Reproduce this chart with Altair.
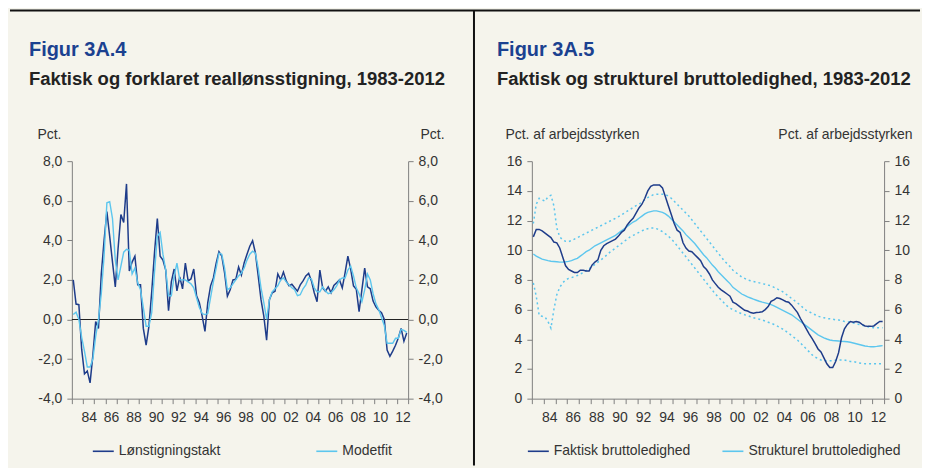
import altair as alt
import pandas as pd

# ---------------- data (quarterly, 1983Q1 - 2012Q4) ----------------
YEARS = list(range(1983, 2013))
TICK_YEARS = list(range(1983, 2014))

L_NAMES = ["Lønstigningstakt", "Modetfit"]
R_NAMES = ["Faktisk bruttoledighed", "Strukturel bruttoledighed"]

loen = [
    2.0, 0.78, 0.75, -1.5,
    -2.75, -2.6, -3.2, -1.8,
    -0.1, -0.45, 2.3, 4.0,
    5.45, 4.2, 2.9, 1.65,
    3.6, 5.3, 4.9, 6.85,
    2.45, 2.9, 3.2, 1.75,
    1.75, -0.45, -1.3, -0.35,
    1.4, 3.4, 5.1, 3.2,
    3.0, 2.5, 0.45, 1.9,
    2.55, 1.45, 2.15, 1.55,
    2.85, 1.95, 2.05, 2.55,
    1.2, 0.85, 0.17, -0.6,
    0.85, 1.7, 2.1, 2.85,
    3.43, 3.2, 2.36, 1.18,
    1.5, 2.0, 2.03, 2.65,
    2.25, 2.87, 3.3, 3.7,
    3.98, 3.36, 2.2, 1.0,
    0.17, -1.05, 1.0, 1.35,
    1.43, 2.3, 2.0, 2.4,
    1.95, 1.7, 1.78, 1.6,
    1.43, 1.75, 1.95, 2.2,
    2.33, 1.95, 1.35, 0.9,
    2.5, 1.6, 1.43, 1.65,
    1.35, 1.72, 1.86, 2.0,
    1.6, 2.36, 3.2, 2.55,
    1.7, 1.53, 0.4, 1.5,
    2.6, 1.65, 1.55, 0.93,
    0.64, 0.47, 0.34, 0.0,
    -1.55, -1.86, -1.6, -1.3,
    -0.93, -0.45, -1.1, -0.68,
]

modelfit = [
    0.25, 0.37, 0.0, -0.9,
    -1.6, -2.4, -2.4, -2.0,
    -0.85, 0.0, 1.3, 3.2,
    5.9, 5.95, 5.1, 3.0,
    2.0, 2.7, 3.4, 3.55,
    3.5, 2.3, 2.6, 1.85,
    1.5, 0.6, -0.34, -0.34,
    0.34, 2.4, 4.2, 4.4,
    3.3, 2.5, 1.2, 1.2,
    2.2, 2.85, 2.0, 2.0,
    2.0, 1.9, 1.8, 1.6,
    1.1, 0.6, 0.3, 0.25,
    0.3, 1.1, 1.9, 2.6,
    3.35, 3.3, 2.6, 1.5,
    1.6, 1.8, 2.0, 2.2,
    2.35, 2.6, 3.0, 3.3,
    3.45, 3.35, 2.6, 1.6,
    0.85, 0.0, 1.0, 1.4,
    1.55, 1.7, 2.0, 2.1,
    1.9, 1.75, 1.6, 1.5,
    1.2, 1.25, 1.55, 1.75,
    2.1, 2.05, 1.6, 1.4,
    1.4, 1.65, 1.45, 1.3,
    1.35, 1.5, 1.7, 2.0,
    2.1, 2.1, 2.5, 2.7,
    2.2, 1.6, 1.3, 0.9,
    1.5, 2.3, 2.0, 1.3,
    0.8, 0.5, 0.1, -0.3,
    -1.2, -1.2, -1.2, -0.95,
    -0.95, -0.5, -0.55, -0.65,
]

faktisk = [
    10.9, 11.4, 11.4, 11.3,
    11.15, 11.0, 10.85, 10.55,
    10.5, 10.15, 9.55, 8.95,
    8.7, 8.6, 8.5, 8.5,
    8.65, 8.65, 8.6, 8.6,
    9.0, 9.2, 9.35, 10.0,
    10.3, 10.45, 10.55, 10.65,
    10.75, 10.95, 11.2, 11.35,
    11.7, 11.95, 12.15, 12.5,
    12.85, 13.1, 13.5, 14.0,
    14.3, 14.4, 14.4, 14.4,
    14.2, 13.6, 13.0, 12.4,
    11.8, 11.35, 11.2, 10.5,
    10.15, 9.95, 9.9, 9.7,
    9.5, 9.3, 8.9, 8.7,
    8.4, 8.0, 7.75, 7.5,
    7.33, 7.2, 7.05, 6.9,
    6.5, 6.4, 6.25, 6.1,
    5.95, 5.9, 5.8, 5.75,
    5.8, 5.82, 5.85, 6.0,
    6.2, 6.55, 6.65, 6.8,
    6.75, 6.65, 6.55, 6.5,
    6.3, 6.05, 5.8, 5.4,
    5.05, 4.7, 4.35, 4.05,
    3.7, 3.35, 3.15, 2.75,
    2.35, 2.1, 2.1, 2.5,
    3.1, 4.1, 4.7, 5.0,
    5.2, 5.15, 5.2, 5.15,
    5.0, 4.9, 4.87, 4.87,
    4.9, 5.05, 5.2, 5.2,
]

strukturel = [
    9.75, 9.6, 9.5, 9.4,
    9.35, 9.3, 9.26, 9.24,
    9.22, 9.2, 9.2, 9.22,
    9.25, 9.3, 9.38, 9.45,
    9.6, 9.75, 9.9, 10.0,
    10.15, 10.3, 10.4, 10.5,
    10.6, 10.7, 10.8, 10.9,
    11.0, 11.15, 11.3, 11.45,
    11.6, 11.75, 11.9, 12.0,
    12.15, 12.3, 12.45, 12.55,
    12.6, 12.65, 12.65, 12.6,
    12.55, 12.45, 12.3, 12.1,
    11.9, 11.7, 11.5, 11.3,
    11.05, 10.85, 10.65, 10.45,
    10.2, 9.95, 9.7, 9.5,
    9.25, 9.0, 8.8, 8.55,
    8.35, 8.15, 7.95, 7.75,
    7.5, 7.35, 7.2, 7.05,
    6.95, 6.85, 6.78, 6.7,
    6.63, 6.56, 6.5, 6.45,
    6.4, 6.33, 6.25, 6.15,
    6.05, 5.95, 5.85, 5.75,
    5.65, 5.5, 5.35, 5.2,
    5.05, 4.9, 4.75, 4.6,
    4.45, 4.3, 4.2, 4.1,
    4.02, 3.95, 3.92, 3.9,
    3.88, 3.86, 3.85, 3.83,
    3.8, 3.75, 3.7, 3.65,
    3.6, 3.55, 3.52, 3.5,
    3.5, 3.52, 3.55, 3.57,
]

strukt_upper = [
    11.8, 13.1, 13.5, 13.4,
    13.3, 13.6, 13.7, 13.0,
    11.5, 10.9, 10.7, 10.6,
    10.58, 10.65, 10.75, 10.85,
    10.95, 11.05, 11.15, 11.25,
    11.35, 11.45, 11.55, 11.65,
    11.75, 11.85, 11.95, 12.05,
    12.15, 12.26, 12.38, 12.5,
    12.63, 12.75, 12.88, 13.0,
    13.1, 13.25, 13.4, 13.55,
    13.65, 13.75, 13.77, 13.77,
    13.77, 13.75, 13.65, 13.5,
    13.3, 13.1, 12.9, 12.7,
    12.5, 12.3, 12.05, 11.8,
    11.55, 11.3, 11.05, 10.8,
    10.55, 10.3, 10.05, 9.8,
    9.55, 9.3, 9.1, 8.9,
    8.65, 8.5, 8.35, 8.2,
    8.1, 8.0, 7.95, 7.9,
    7.85, 7.8, 7.75, 7.7,
    7.65, 7.6, 7.5, 7.4,
    7.3, 7.2, 7.05, 6.9,
    6.75, 6.6, 6.45, 6.3,
    6.1, 5.95, 5.85, 5.75,
    5.65, 5.55, 5.5, 5.45,
    5.4, 5.38, 5.35, 5.3,
    5.3, 5.25, 5.2, 5.18,
    5.15, 5.1, 5.05, 5.0,
    4.95, 4.9, 4.85, 4.8,
    4.78, 4.77, 4.77, 4.77,
]

strukt_lower = [
    7.8, 6.9, 5.6, 5.55,
    5.5, 5.2, 4.75, 6.0,
    7.0, 7.5, 7.8, 8.0,
    8.1, 8.15, 8.23, 8.3,
    8.4, 8.5, 8.62, 8.75,
    8.9, 9.05, 9.2, 9.35,
    9.5, 9.67, 9.85, 10.0,
    10.15, 10.3, 10.45, 10.6,
    10.75, 10.9, 11.0, 11.1,
    11.2, 11.3, 11.4, 11.45,
    11.5, 11.5, 11.45, 11.35,
    11.25, 11.1, 10.95, 10.75,
    10.55, 10.3, 10.05, 9.8,
    9.55, 9.3, 9.05, 8.8,
    8.55, 8.3, 8.05, 7.8,
    7.55, 7.3, 7.05, 6.85,
    6.65, 6.45, 6.25, 6.1,
    6.0, 5.9, 5.8, 5.72,
    5.65, 5.6, 5.52, 5.45,
    5.4, 5.35, 5.3, 5.22,
    5.15, 5.08, 5.0, 4.9,
    4.8, 4.68, 4.55, 4.4,
    4.25, 4.1, 3.95, 3.75,
    3.55, 3.35, 3.15, 2.95,
    2.8, 2.7, 2.6, 2.55,
    2.55, 2.55, 2.55, 2.58,
    2.6, 2.6, 2.6, 2.55,
    2.5, 2.5, 2.45, 2.4,
    2.38, 2.35, 2.35, 2.35,
    2.35, 2.35, 2.35, 2.35,
]

L_YTICKS = [-4, -2, 0, 2, 4, 6, 8]
R_YTICKS = [0, 2, 4, 6, 8, 10, 12, 14, 16]

t = [y + (q - 0.5) / 4 for y in YEARS for q in range(1, 5)]
n = len(t)

df_loen = pd.DataFrame({"t": t, "v": loen, "serie_l": [L_NAMES[0]] * n})
df_model = pd.DataFrame({"t": t, "v": modelfit, "serie_l": [L_NAMES[1]] * n})
df_fakt = pd.DataFrame({"t": t, "v": faktisk, "serie_r": [R_NAMES[0]] * n})
df_strukt = pd.DataFrame({"t": t, "v": strukturel, "serie_r": [R_NAMES[1]] * n})
df_band = pd.DataFrame({"t": t * 2, "v": strukt_upper + strukt_lower,
                        "band": ["upper"] * n + ["lower"] * n})
df_zero = pd.DataFrame({"z": [0]})
df_one = pd.DataFrame({"a": [0]})

# ---------------- styling ----------------
BG = "#f5f4ec"
DARK = "#1e3c8a"
LIGHT = "#5cc6ee"
AX = "#7f7f7f"
TXT = "#333333"
TITLE_BLUE = "#1b4190"
FONT = "Liberation Sans"

num_expr = "replace(replace(format(datum.value, '.1f'), '.', ','), '\u2212', '-')"

def x_axis():
    return alt.Axis(values=TICK_YEARS,
                    labelExpr="datum.value % 2 == 0 && datum.value < 2013 ? slice(toString(datum.value), 2) : ''",
                    labelOffset=5.6, tickSize=5, labelPadding=7, domainColor=AX,
                    tickColor=AX, labelColor=TXT, labelFontSize=14, grid=False,
                    title=None, labelFlush=False, labelOverlap=False)

def y_axis(orient, values, expr, title, tx):
    return alt.Axis(orient=orient, values=values, labelExpr=expr, tickSize=5,
                    labelPadding=5, domainColor=AX, tickColor=AX, labelColor=TXT,
                    labelFontSize=14, grid=False, title=title, titleAngle=0,
                    titleX=tx, titleY=-23, titleAlign="left" if orient == "left" else "right",
                    titleBaseline="alphabetic", titleFontWeight="normal",
                    titleFontSize=14, titleColor=TXT, labelFlush=False)

def legend(lx, colpad):
    return alt.Legend(orient="none", legendX=lx, legendY=279, direction="horizontal",
                      title=None, symbolType="stroke", symbolSize=441,
                      symbolStrokeWidth=1.6, labelFontSize=14, labelColor=TXT,
                      columnPadding=colpad, labelOffset=4, padding=0, labelLimit=400)

def title(main, sub, dx):
    return alt.TitleParams(text=main, subtitle=sub, anchor="start", frame="group",
                           dx=dx, offset=-79, fontSize=20, font=FONT, fontWeight="bold",
                           color=TITLE_BLUE, subtitleFontSize=18.5, subtitleFont=FONT,
                           subtitleFontWeight="bold", subtitleColor="#222222",
                           subtitlePadding=10)

# ---------------- left panel ----------------
xsc = alt.Scale(domain=[1983, 2013], nice=False, zero=False)
ysc_l = alt.Scale(domain=[-4, 8], nice=False, zero=False)
col_l = alt.Color("serie_l:N", scale=alt.Scale(domain=L_NAMES, range=[DARK, LIGHT]),
                  legend=legend(20, 92))

top_line = alt.Chart(df_one).mark_rule(color="#111111", strokeWidth=2).encode(
    x=alt.value(-62), x2=alt.value(850), y=alt.value(-151))

zero = alt.Chart(df_zero).mark_rule(color="#222222", strokeWidth=1.2).encode(
    y=alt.Y("z:Q", scale=ysc_l,
            axis=y_axis("right", L_YTICKS, num_expr, "Pct.", 36)))

l_dark = alt.Chart(df_loen).mark_line(strokeWidth=1.5).encode(
    x=alt.X("t:Q", scale=xsc, axis=x_axis()),
    y=alt.Y("v:Q", scale=ysc_l, axis=y_axis("left", L_YTICKS, num_expr, "Pct.", -35)),
    color=col_l)

l_light = alt.Chart(df_model).mark_line(strokeWidth=1.4).encode(
    x=alt.X("t:Q", scale=xsc, axis=x_axis()),
    y=alt.Y("v:Q", scale=ysc_l, axis=None),
    color=col_l)

left = alt.layer(top_line, zero, l_dark, l_light).resolve_axis(y="independent").properties(
    width=337, height=238,
    title=title("Figur 3A.4", "Faktisk og forklaret reallønsstigning, 1983-2012", -43))

# ---------------- right panel ----------------
ysc_r = alt.Scale(domain=[0, 16], nice=False, zero=False)
col_r = alt.Color("serie_r:N", scale=alt.Scale(domain=R_NAMES, range=[DARK, LIGHT]),
                  legend=legend(-5, 28))
int_expr = "format(datum.value, 'd')"

divider = alt.Chart(df_one).mark_rule(color="#111111", strokeWidth=2).encode(
    x=alt.value(-58), y=alt.value(-151), y2=alt.value(305))

band = alt.Chart(df_band).mark_line(strokeWidth=1.5, strokeDash=[2, 3], color=LIGHT).encode(
    x=alt.X("t:Q", scale=xsc, axis=x_axis()),
    y=alt.Y("v:Q", scale=ysc_r,
            axis=y_axis("right", R_YTICKS, int_expr, "Pct. af arbejdsstyrken", 28)),
    detail="band:N")

r_light = alt.Chart(df_strukt).mark_line(strokeWidth=1.4).encode(
    x=alt.X("t:Q", scale=xsc, axis=x_axis()),
    y=alt.Y("v:Q", scale=ysc_r, axis=None),
    color=col_r)

r_dark = alt.Chart(df_fakt).mark_line(strokeWidth=1.5).encode(
    x=alt.X("t:Q", scale=xsc, axis=x_axis()),
    y=alt.Y("v:Q", scale=ysc_r,
            axis=y_axis("left", R_YTICKS, int_expr, "Pct. af arbejdsstyrken", -27)),
    color=col_r)

right = alt.layer(divider, band, r_light, r_dark).resolve_axis(y="independent").properties(
    width=353, height=238,
    title=title("Figur 3A.5", "Faktisk og strukturel bruttoledighed, 1983-2012", -35))

chart = alt.hconcat(left, right, spacing=124, bounds="flush", padding=0).resolve_scale(
    color="independent").configure(background=BG, font=FONT).configure_view(
    stroke="transparent")

chart.save("out.html", embed_options={"renderer": "svg", "actions": False})
